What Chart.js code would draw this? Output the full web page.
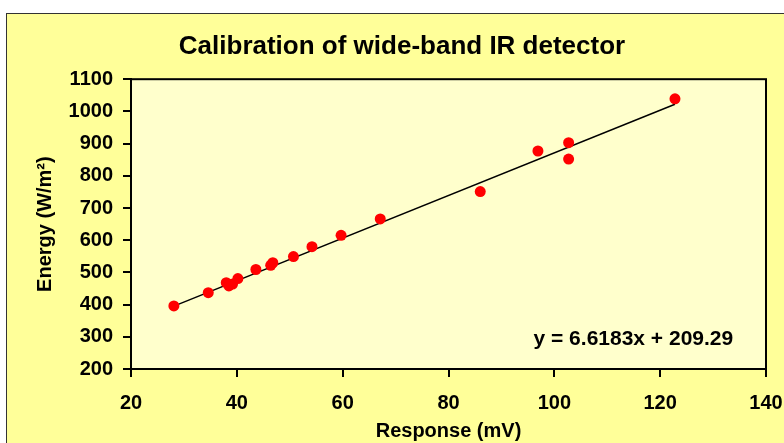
<!DOCTYPE html>
<html lang="en">
<head>
<meta charset="utf-8">
<title>Calibration of wide-band IR detector</title>
<script src="https://cdn.jsdelivr.net/npm/chart.js@4.4.1/dist/chart.umd.min.js"></script>
<style>
  body { margin: 0; background: #fff; overflow: hidden; }
  #frame { position: absolute; left: 6px; top: 13px; width: 800px; height: 450px;
           background: #ffff99; border: 1px solid #333; }
  #chart { position: absolute; left: 0; top: 0; }
</style>
</head>
<body>
<div id="frame"></div>
<canvas id="chart" width="784" height="443"></canvas>
<script>
const responseMv = [28.1, 34.6, 38.0, 38.5, 39.2, 40.2, 43.6, 46.4, 46.8, 50.7, 54.2, 59.7, 67.1, 86.0, 96.9, 102.7, 102.7, 122.8];
const energy = [396, 437, 468, 458, 464, 481, 509, 522, 530, 549, 580, 615, 666, 751, 877, 903, 852, 1039];

// linear trend shown on the chart
const slope = 6.6183;
const intercept = 209.29;
const equationText = 'y = 6.6183x + 209.29';
const equationAt = { x: 133.8, y: 275 }; // right end / baseline, in data units

const xTicks = [20, 40, 60, 80, 100, 120, 140];
const yTicks = [200, 300, 400, 500, 600, 700, 800, 900, 1000, 1100];

const FONT = '"Liberation Sans", Arial, sans-serif';

const points = responseMv.map((x, i) => ({ x: x, y: energy[i] }));
const xMin = Math.min(...responseMv), xMax = Math.max(...responseMv);
const trend = [xMin, xMax].map(x => ({ x: x, y: slope * x + intercept }));

const plotArea = {
  id: 'plotArea',
  beforeDraw(chart) {
    const a = chart.chartArea, c = chart.ctx;
    c.save();
    c.fillStyle = '#ffffcc';
    c.fillRect(a.left, a.top, a.right - a.left, a.bottom - a.top);
    c.restore();
  },
  afterDraw(chart) {
    const a = chart.chartArea, c = chart.ctx;
    c.save();
    c.strokeStyle = '#000';
    c.lineWidth = 2;
    c.strokeRect(a.left, a.top, a.right - a.left, a.bottom - a.top);
    // trend equation
    const px = chart.scales.x.getPixelForValue(equationAt.x);
    const py = chart.scales.y.getPixelForValue(equationAt.y);
    c.font = 'bold 21px ' + FONT;
    c.fillStyle = '#000';
    c.textAlign = 'right';
    c.textBaseline = 'alphabetic';
    c.fillText(equationText, px, py);
    c.restore();
  }
};

new Chart(document.getElementById('chart'), {
  type: 'scatter',
  data: {
    datasets: [
      {
        label: 'Energy',
        data: points,
        backgroundColor: '#ff0000',
        borderWidth: 0,
        pointRadius: 5.5,
        order: 1
      },
      {
        label: 'Linear trend',
        data: trend,
        showLine: true,
        borderColor: '#000',
        borderWidth: 1.5,
        pointRadius: 0,
        order: 2
      }
    ]
  },
  options: {
    responsive: false,
    animation: false,
    layout: { padding: { left: 38, right: 18, top: 0, bottom: 0 } },
    plugins: {
      legend: { display: false },
      tooltip: { enabled: false },
      title: {
        display: true,
        text: 'Calibration of wide-band IR detector',
        color: '#000',
        font: { family: FONT, size: 26, weight: 'bold', lineHeight: 1.2 },
        padding: { top: 31, bottom: 17 }
      }
    },
    scales: {
      x: {
        type: 'linear',
        min: 20, max: 140,
        afterBuildTicks(s) { s.ticks = xTicks.map(v => ({ value: v })); },
        afterFit(s) { s.height = 74; s.paddingLeft = 0; s.paddingRight = 0; },
        grid: { drawOnChartArea: false, drawTicks: true, tickLength: 8, color: '#000', lineWidth: 2 },
        border: { display: true, color: '#000', width: 2 },
        ticks: { color: '#000', padding: 14, font: { family: FONT, size: 20, weight: 'bold' } },
        title: {
          display: true, text: 'Response (mV)', color: '#000',
          font: { family: FONT, size: 20, weight: 'bold', lineHeight: 1.2 },
          padding: { top: 0, bottom: 0 }
        }
      },
      y: {
        type: 'linear',
        min: 200, max: 1100,
        afterBuildTicks(s) { s.ticks = yTicks.map(v => ({ value: v })); },
        afterFit(s) { s.width = 93; s.paddingTop = 0; s.paddingBottom = 0; },
        grid: { drawOnChartArea: false, drawTicks: true, tickLength: 8, color: '#000', lineWidth: 2 },
        border: { display: true, color: '#000', width: 2 },
        ticks: {
          color: '#000', padding: 10, font: { family: FONT, size: 20, weight: 'bold' },
          callback: v => String(v)
        },
        title: {
          display: true, text: 'Energy (W/m²)', color: '#000',
          font: { family: FONT, size: 20, weight: 'bold', lineHeight: 0.7 },
          padding: { top: 0, bottom: 0 }
        }
      }
    }
  },
  plugins: [plotArea]
});
</script>
</body>
</html>
